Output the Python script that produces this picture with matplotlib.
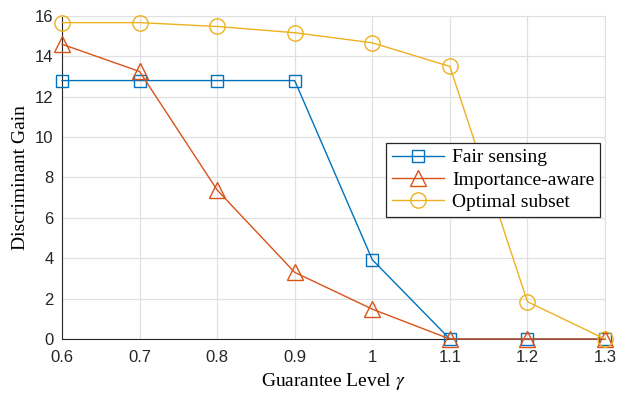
import matplotlib
matplotlib.use("Agg")
import matplotlib.pyplot as plt

plt.rcParams["mathtext.fontset"] = "stix"

gamma = [0.6, 0.7, 0.8, 0.9, 1.0, 1.1, 1.2, 1.3]
fair = [12.8, 12.8, 12.8, 12.8, 3.93, 0, 0, 0]
importance = [14.6, 13.25, 7.38, 3.3, 1.48, 0, 0, 0]
optimal = [15.67, 15.67, 15.48, 15.17, 14.67, 13.5, 1.85, 0]
labels = ["Fair sensing", "Importance-aware", "Optimal subset"]
xticks = [0.6, 0.7, 0.8, 0.9, 1.0, 1.1, 1.2, 1.3]
xticklabels = ["0.6", "0.7", "0.8", "0.9", "1", "1.1", "1.2", "1.3"]
yticks = [0, 2, 4, 6, 8, 10, 12, 14, 16]

fig = plt.figure(figsize=(6.17, 3.93), dpi=100)
ax = fig.add_axes([0.1005, 0.1374, 0.88, 0.822])

ax.plot(gamma, fair, color="#0072BD", marker="s", markersize=9, markerfacecolor="none",
        linewidth=1, label=labels[0], clip_on=False, zorder=3)
ax.plot(gamma, importance, color="#D95319", marker="^", markersize=11, markerfacecolor="none",
        linewidth=1, label=labels[1], clip_on=False, zorder=3)
ax.plot(gamma, optimal, color="#EDB120", marker="o", markersize=11, markerfacecolor="none",
        linewidth=1, label=labels[2], clip_on=False, zorder=3)

ax.set_xlim(0.6, 1.3)
ax.set_ylim(0, 16)
ax.set_xticks(xticks)
ax.set_xticklabels(xticklabels)
ax.set_yticks(yticks)
ax.grid(True, color="#e0e0e0", linewidth=0.9)
ax.set_axisbelow(True)
for s in ["top", "right"]:
    ax.spines[s].set_color("#e0e0e0")
for s in ["left", "bottom"]:
    ax.spines[s].set_color("#262626")
ax.tick_params(direction="in", length=0, labelsize=12, colors="#262626", pad=6)
ax.tick_params(axis="x", pad=8)
for t in ax.get_xticklabels() + ax.get_yticklabels():
    t.set_fontfamily("Liberation Sans")

ax.set_xlabel(r"Guarantee Level $\gamma$", fontfamily="Liberation Serif", fontsize=14)
ax.set_ylabel("Discriminant Gain", fontfamily="Liberation Serif", fontsize=14)

leg = ax.legend(loc="upper right", bbox_to_anchor=(0.991, 0.607),
                prop={"family": "Liberation Serif", "size": 14},
                fancybox=False, edgecolor="#262626", framealpha=1,
                borderpad=0.3, labelspacing=0.25, handlelength=2.7,
                handletextpad=0.4, borderaxespad=0)
leg.get_frame().set_linewidth(0.9)

fig.savefig("out.png", dpi=100)
